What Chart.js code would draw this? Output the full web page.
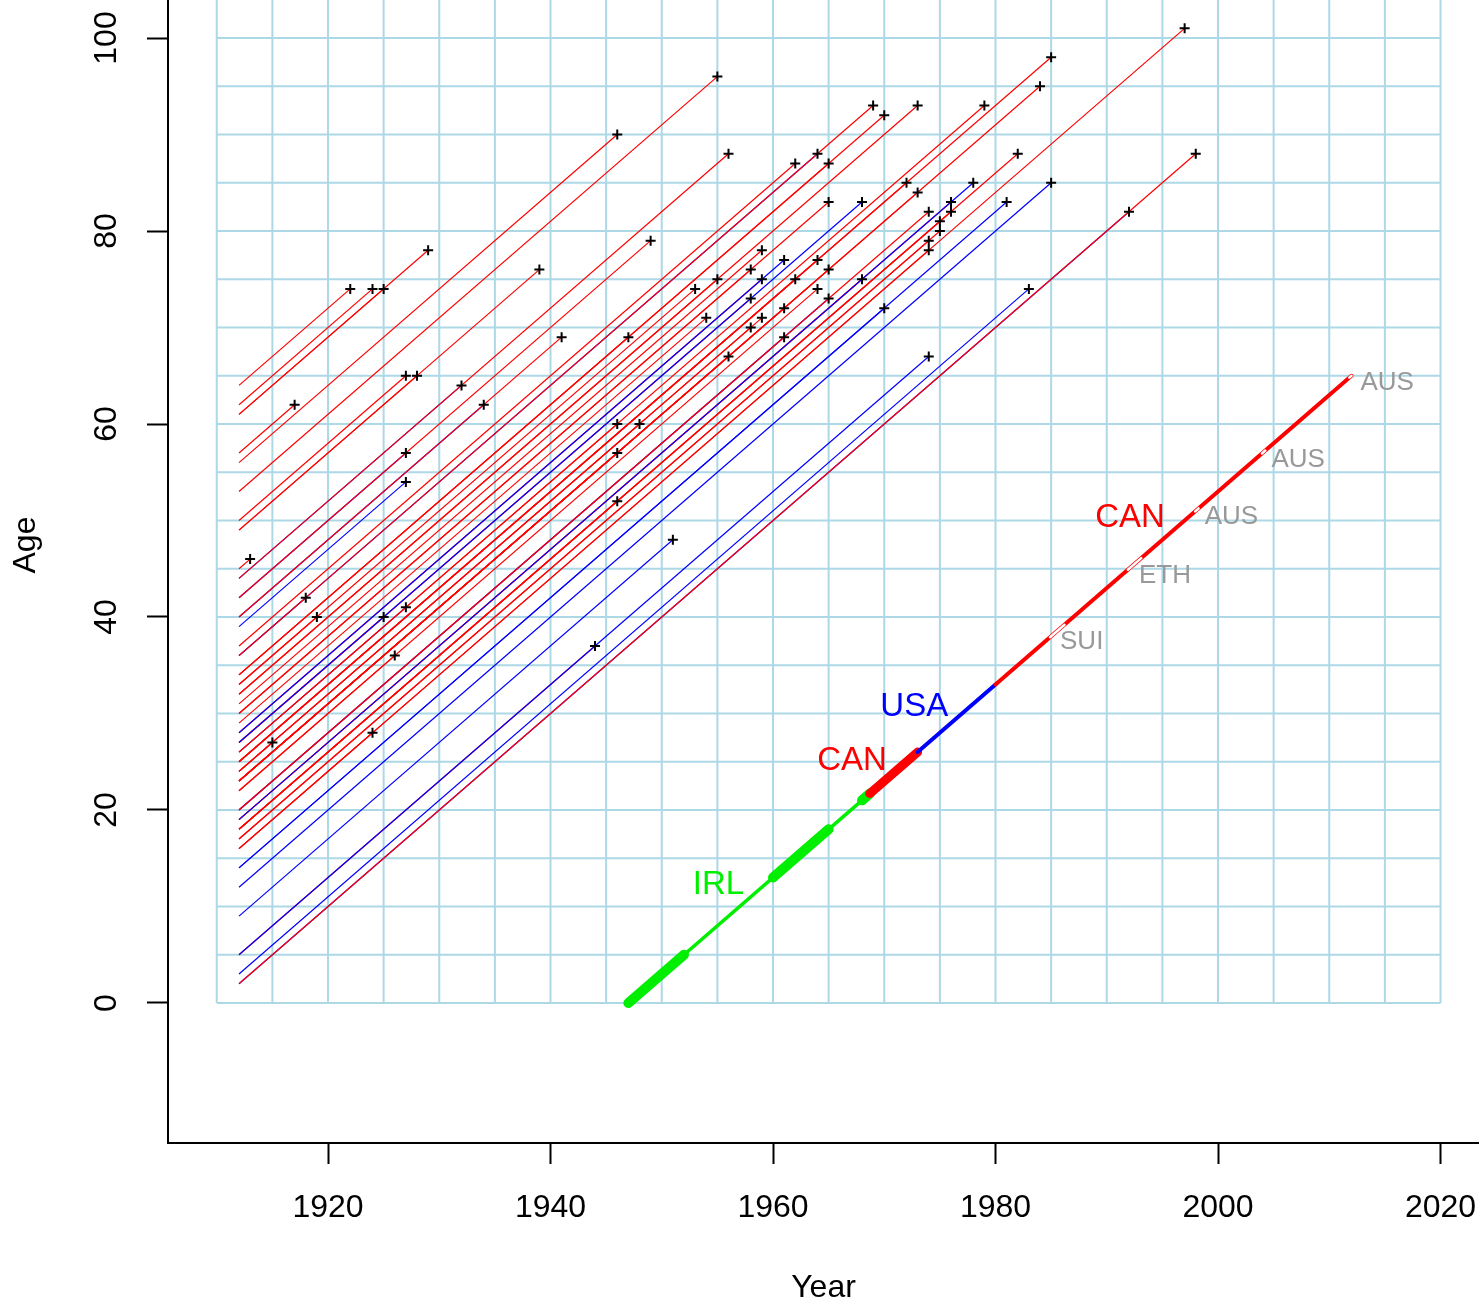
<!DOCTYPE html>
<html>
<head>
<meta charset="utf-8">
<script src="https://cdn.jsdelivr.net/npm/chart.js@4.4.1/dist/chart.umd.min.js"></script>
<style>
  html, body { margin: 0; padding: 0; background: #fff; overflow: hidden; }
  canvas { display: block; }
</style>
</head>
<body>
<canvas id="chart" width="1479" height="1308"></canvas>
<script>
const FONT = '"Liberation Sans", Arial, Helvetica, sans-serif';

// every life line starts in 1912 and ends at the "+" (year, age)
const startYear = 1912;
const deathYear = [1913, 1915, 1917, 1918, 1919, 1922, 1924, 1925, 1924, 1925,
  1926, 1927, 1928, 1927, 1927, 1927, 1929, 1932, 1934, 1939,
  1941, 1944, 1946, 1946, 1946, 1946, 1947, 1948, 1949, 1951,
  1953, 1954, 1955, 1955, 1956, 1956, 1958, 1958, 1958, 1959,
  1959, 1959, 1961, 1961, 1961, 1962, 1962, 1964, 1964, 1964,
  1965, 1965, 1965, 1965, 1968, 1968, 1969, 1970, 1970, 1972,
  1973, 1973, 1974, 1974, 1974, 1974, 1975, 1975, 1976, 1976,
  1978, 1979, 1981, 1982, 1983, 1984, 1985, 1985, 1992, 1997, 1998];
const deathAge = [46, 27, 62, 42, 40, 74, 74, 74, 28, 40,
  36, 65, 65, 57, 54, 41, 78, 64, 62, 76,
  69, 37, 90, 60, 57, 52, 69, 60, 79, 48,
  74, 71, 96, 75, 88, 67, 76, 73, 70, 78,
  75, 71, 77, 72, 69, 87, 75, 88, 77, 74,
  87, 83, 76, 73, 83, 75, 93, 92, 72, 85,
  93, 84, 82, 79, 78, 67, 81, 80, 83, 82,
  85, 93, 83, 88, 74, 95, 98, 85, 82, 101, 88];
const group = [1, 1, 1, 1, 1, 1, 1, 1, 1, 1,
  1, 1, 1, 2, 2, 2, 1, 2, 2, 1,
  1, 1, 1, 1, 1, 1, 1, 1, 1, 2,
  1, 1, 1, 1, 1, 1, 1, 1, 1, 1,
  1, 1, 2, 1, 1, 1, 1, 2, 1, 1,
  1, 1, 1, 2, 2, 1, 1, 1, 2, 1,
  1, 1, 1, 1, 1, 2, 1, 1, 1, 1,
  2, 1, 2, 1, 2, 1, 1, 2, 2, 1, 1];

const xTicks = [1920, 1940, 1960, 1980, 2000, 2020];
const yTicks = [0, 20, 40, 60, 80, 100];

// the lineage path, one person born 1947
const pathBirth = 1947;
const segFrom = [1947, 1947, 1960, 1968, 1968.7, 1973, 1980, 1984.9, 1991.9, 1997.95, 2003.95, 2011.8];
const segTo = [1968.7, 1952, 1965, 1968.7, 1973, 1980, 2012, 1986.2, 1993.1, 1998.25, 2004.25, 2012];
const segNat = ['IRL', 'IRL', 'IRL', 'IRL', 'CAN', 'USA', 'CAN', 'SUI', 'ETH', 'AUS', 'AUS', 'AUS'];
const segKind = ['thin', 'thick', 'thick', 'thick', 'thick', 'mid', 'mid', 'gap', 'gap', 'gap', 'gap', 'gap'];

const labText = ['IRL', 'CAN', 'USA', 'CAN', 'SUI', 'ETH', 'AUS', 'AUS', 'AUS'];
const labYear = [1955.1, 1967.1, 1972.7, 1992.1, 1985.8, 1992.9, 1998.8, 2004.8, 2012.8];
const labAge = [12.2, 25.1, 30.7, 50.3, 37.4, 44.3, 50.4, 56.3, 64.3];

const groupColor = {1: '#ff0000', 2: '#0000ff'};
const natColor = {IRL: '#00ee00', CAN: '#ff0000', USA: '#0000ff'};
const kindWidth = {thin: 3.5, thick: 10, mid: 4, gap: 2.5};

const datasets = [];

deathYear.forEach((d, i) => {
  datasets.push({
    data: [{x: startYear, y: deathAge[i] - (d - startYear)}, {x: d, y: deathAge[i]}],
    showLine: true,
    borderColor: groupColor[group[i]],
    borderWidth: 1.2,
    pointRadius: 0,
    order: 1000 - i
  });
});

segFrom.forEach((f, k) => {
  const t = segTo[k];
  let w = kindWidth[segKind[k]];
  if (segKind[k] == 'thick' && segNat[k] == 'CAN') w = 9;
  datasets.push({
    data: [{x: f, y: f - pathBirth}, {x: t, y: t - pathBirth}],
    showLine: true,
    borderColor: segKind[k] == 'gap' ? '#ffffff' : natColor[segNat[k]],
    borderWidth: w,
    borderCapStyle: 'round',
    pointRadius: 0,
    order: 100 - k
  });
});

datasets.push({
  data: deathYear.map((d, i) => ({x: d, y: deathAge[i]})),
  showLine: false,
  pointStyle: 'cross',
  pointRadius: 5,
  pointBorderColor: '#000',
  pointBorderWidth: 2,
  order: 0
});

// light blue background grid, 1910-2020 and ages 0-100 every 5
const bgGrid = {
  id: 'bgGrid',
  beforeDatasetsDraw(chart) {
    const {ctx, chartArea, scales: {x, y}} = chart;
    ctx.save();
    ctx.strokeStyle = '#add8e6';
    ctx.lineWidth = 2;
    ctx.beginPath();
    for (let v = 1910; v <= 2020; v += 5) {
      const px = x.getPixelForValue(v);
      ctx.moveTo(px, y.getPixelForValue(0));
      ctx.lineTo(px, chartArea.top);
    }
    for (let a = 0; a <= 100; a += 5) {
      const py = y.getPixelForValue(a);
      ctx.moveTo(x.getPixelForValue(1910), py);
      ctx.lineTo(x.getPixelForValue(2020), py);
    }
    ctx.stroke();
    ctx.restore();
  }
};

// country labels along the path + the y axis title
const textLayer = {
  id: 'textLayer',
  afterDatasetsDraw(chart) {
    const {ctx, scales: {x, y}} = chart;
    ctx.save();
    ctx.textBaseline = 'middle';
    labText.forEach((t, i) => {
      const px = x.getPixelForValue(labYear[i]);
      const py = y.getPixelForValue(labAge[i]);
      if (natColor[t] && i < 4) {
        ctx.font = '33px ' + FONT;
        ctx.fillStyle = natColor[t];
        ctx.textAlign = 'center';
      } else {
        ctx.font = '26px ' + FONT;
        ctx.fillStyle = '#999999';
        ctx.textAlign = 'left';
      }
      ctx.fillText(t, px, py);
    });
    ctx.restore();
  },
  afterDraw(chart) {
    const {ctx} = chart;
    ctx.save();
    ctx.font = '32px ' + FONT;
    ctx.fillStyle = '#000';
    ctx.textAlign = 'center';
    ctx.textBaseline = 'middle';
    ctx.translate(26, 545);
    ctx.rotate(-Math.PI / 2);
    ctx.fillText('Age', 0, 0);
    ctx.restore();
  }
};

new Chart(document.getElementById('chart'), {
  type: 'scatter',
  data: {datasets: datasets},
  plugins: [bgGrid, textLayer],
  options: {
    responsive: false,
    animation: false,
    devicePixelRatio: 1,
    layout: {padding: 0, autoPadding: false},
    plugins: {legend: {display: false}, tooltip: {enabled: false}},
    scales: {
      x: {
        type: 'linear',
        min: 1905.618,
        max: 2023.46,
        afterBuildTicks: s => { s.ticks = xTicks.map(v => ({value: v})); },
        afterFit: s => { s.height = 165; s.paddingLeft = 0; s.paddingRight = 0; },
        grid: {drawOnChartArea: false, drawTicks: true, tickLength: 21, tickWidth: 2, tickColor: '#000'},
        border: {display: true, color: '#000', width: 2},
        ticks: {font: {family: FONT, size: 32}, color: '#000', padding: 25, maxRotation: 0,
          callback: v => String(v)},
        title: {display: true, text: 'Year', color: '#000', font: {family: FONT, size: 32}, padding: {top: 0, bottom: 1}}
      },
      y: {
        type: 'linear',
        min: -14.508,
        max: 103.938,
        afterBuildTicks: s => { s.ticks = yTicks.map(v => ({value: v})); },
        afterFit: s => { s.width = 168; s.paddingTop = 0; s.paddingBottom = 0; },
        grid: {drawOnChartArea: false, drawTicks: true, tickLength: 21, tickWidth: 2, tickColor: '#000'},
        border: {display: true, color: '#000', width: 2},
        ticks: {font: {family: FONT, size: 32}, color: '#000', padding: 13, minRotation: 90, maxRotation: 90, crossAlign: 'center',
          callback: v => String(v)}
      }
    }
  }
});
</script>
</body>
</html>
